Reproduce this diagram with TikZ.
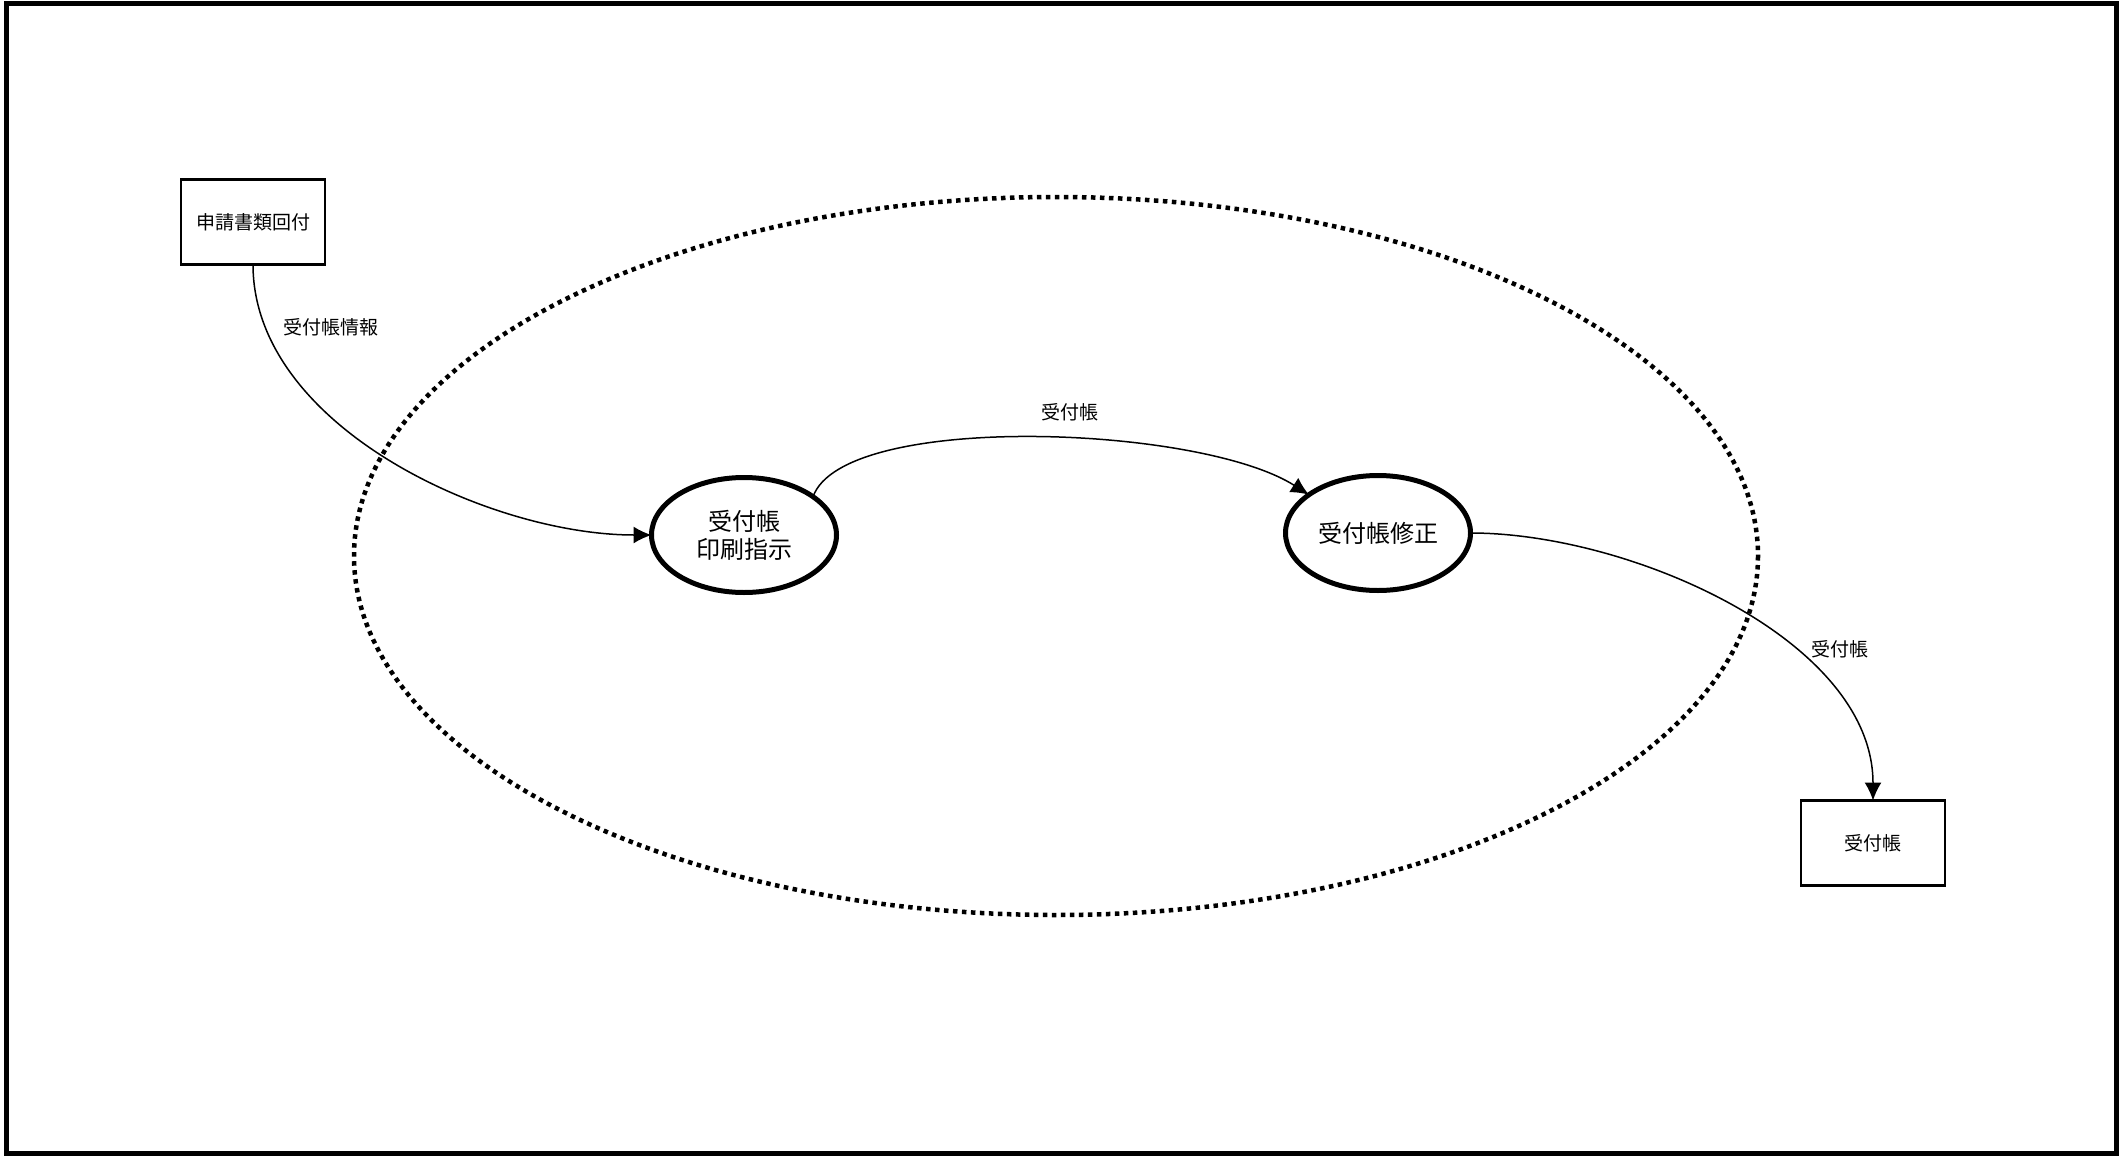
\documentclass[tikz,border=0pt]{standalone}
\usepackage{fontspec}
\setmainfont{Noto Sans CJK JP}
\usetikzlibrary{shapes.geometric,arrows.meta}

\begin{document}
\begin{tikzpicture}[x=1pt, y=-1pt]
\tikzset{ >={Latex[length=18pt,width=17pt]}, inner sep=0pt, outer sep=0pt,
  box/.style={draw, line width=2.2pt, minimum width=144pt, minimum height=85pt, font=\fontsize{19}{23}\selectfont},
  proc/.style={draw, ellipse, line width=5pt, minimum width=185pt, minimum height=115pt, align=center, font=\fontsize{24}{28}\selectfont},
  lbl/.style={font=\fontsize{19}{23}\selectfont},
  flow/.style={->, line width=1.5pt},
}

\useasboundingbox (0,0) rectangle (2121,1156);
\draw [line width=5pt] (6,3.5) rectangle (2116,1153);

% system boundary
\draw [line width=4.5pt, dash pattern=on 4.5pt off 4.5pt] (1056,556) ellipse [x radius=702, y radius=359];

\node [box]  (S) at (253,222)   {申請書類回付};
\node [proc] (P) at (744,535)   {受付帳\\印刷指示};
\node [proc] (M) at (1378,533)  {受付帳修正};
\node [box]  (R) at (1873,843)  {受付帳};

\draw [flow] (S.south) to [out=-90, in=180, looseness=0.86] (P.west);
\draw [flow] (P.29) .. controls +(30,-85) and +(-110,-70) .. (M.151);
\draw [flow] (M.east) to [out=0, in=90, looseness=0.85] (R.north);

\node [lbl] (LS) at (331,327)  {受付帳情報};
\node [lbl] (LP) at (1070,412) {受付帳};
\node [lbl] (LM) at (1840,649) {受付帳};

%\draw [lightgray, dashed] (0,0) grid [step=100] (2121,1156);
\end{tikzpicture}
\end{document}
